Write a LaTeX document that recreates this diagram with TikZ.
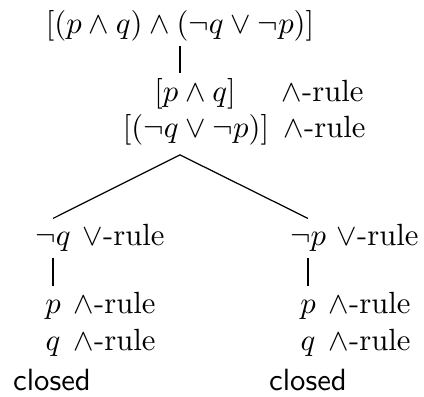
\documentclass[tikz,border=0pt]{standalone}
\usepackage{amsmath}
\usepackage{amssymb}
\usetikzlibrary{positioning, calc}

\begin{document}
\begin{tikzpicture}[x=0.326pt, y=-0.326pt,
    formula/.style={anchor=base, text height=1.5ex, text depth=0.5ex, inner sep=2pt},
    wff/.style={anchor=base, text height=7.5pt, text depth=2.5pt, inner sep=1.5pt},
    rule/.style={anchor=base west, inner sep=0pt},
    closedmark/.style={anchor=base, font=\sffamily}]
    \useasboundingbox (0,0) rectangle (424,396);

    % Nodes
    \node [wff] (root) at (180,33) {$[(p \wedge q) \wedge (\neg q \vee \neg p)]$};
    \node [wff] (conj) at (195,101) {$[p \wedge q]$};
    \node [rule] (conjrule) at (281,101) {$\wedge$-rule};
    \node [wff] (disj) at (196,137) {$[(\neg q \vee \neg p)]$};
    \node [rule] (disjrule) at (283,137) {$\wedge$-rule};

    \node [formula] (lnq) at (53,245) {$\neg q$};
    \node [rule] (lnqrule) at (82,245) {$\vee$-rule};
    \node [formula] (lp) at (53,313) {$p$};
    \node [rule] (lprule) at (73,313) {$\wedge$-rule};
    \node [formula] (lq) at (53,350) {$q$};
    \node [rule] (lqrule) at (73,350) {$\wedge$-rule};
    \node [closedmark] (lclosed) at (52,390) {closed};

    \node [formula] (rnp) at (308,245) {$\neg p$};
    \node [rule] (rnprule) at (336,245) {$\vee$-rule};
    \node [formula] (rp) at (308,313) {$p$};
    \node [rule] (rprule) at (328,313) {$\wedge$-rule};
    \node [formula] (rq) at (308,350) {$q$};
    \node [rule] (rqrule) at (328,350) {$\wedge$-rule};
    \node [closedmark] (rclosed) at (308,390) {closed};

    % Edges
    \draw (root.south) -- (root.south |- conj.north);
    \coordinate (split) at ($(root.south |- disj.south)+(0,5)$);
    \draw (lnq.north) -- (split) -- (rnp.north);
    \draw (lnq) -- (lp);
    \draw (rnp) -- (rp);
\end{tikzpicture}
\end{document}
